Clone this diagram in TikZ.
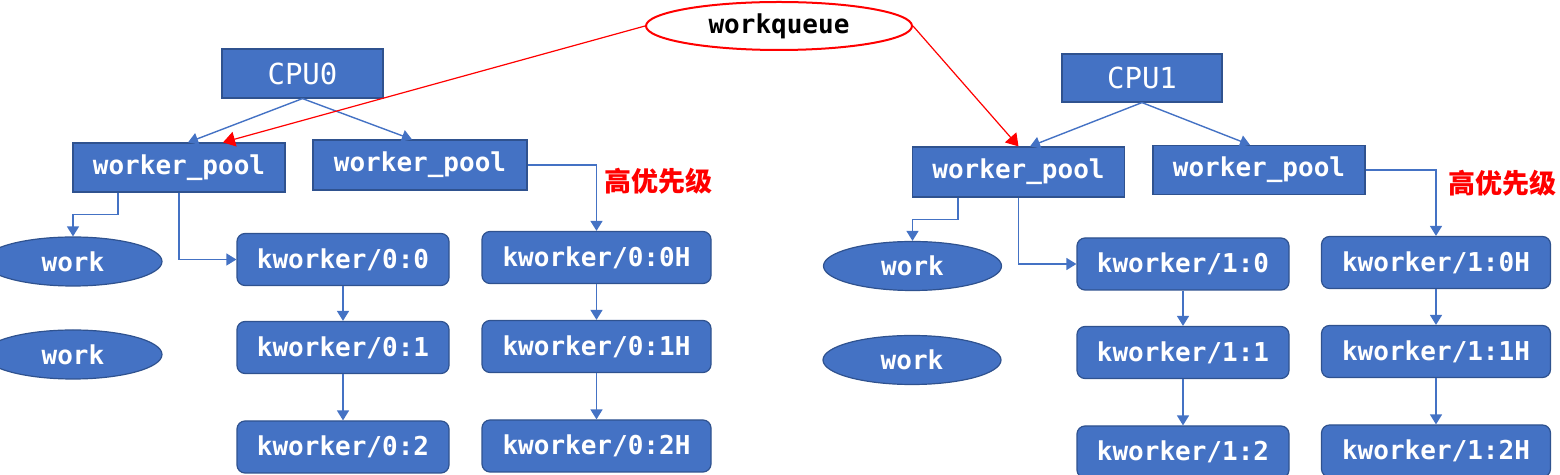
\documentclass[tikz,border=0pt]{standalone}
\usepackage{fontspec}
\newfontfamily\mono{DejaVu Sans Mono}
\newfontfamily\cjk{Noto Sans CJK SC}
\usetikzlibrary{arrows.meta,shapes.geometric,calc}
\definecolor{boxblue}{HTML}{4472C4}
\definecolor{boxedge}{HTML}{2F528F}
\definecolor{linkblue}{HTML}{4472C4}
\definecolor{qred}{HTML}{FF0000}
\begin{document}
\begin{tikzpicture}[x=0.5pt,y=-0.5pt,
 base/.style={fill=boxblue,draw=boxedge,line width=0.6pt,text=white,inner sep=0pt,font=\mono\bfseries\fontsize{13}{15}\selectfont},
 cpubox/.style={base,minimum width=80.5pt,minimum height=24.5pt,font=\mono\fontsize{14.5}{17}\selectfont},
 poolbox/.style={base,minimum width=106pt,minimum height=24.5pt},
 kbox/.style={base,rounded corners=4pt,minimum width=106pt,minimum height=26pt},
 khbox/.style={kbox,minimum width=114.5pt},
 workell/.style={base,ellipse,minimum width=89pt,minimum height=24.5pt},
 conn/.style={draw=linkblue,line width=0.7pt,-{Triangle[width=6pt,length=5pt]}},
 qconn/.style={draw=qred,line width=0.6pt,-{Triangle[width=7.5pt,length=6pt]}},
 prio/.style={text=qred,font=\cjk\bfseries\fontsize{13.5}{16}\selectfont,inner sep=0pt}
]
\useasboundingbox (0,0) rectangle (1560,475);

% workqueue
\node[ellipse,draw=qred,line width=1pt,fill=white,minimum width=133pt,minimum height=24pt,inner sep=0pt,font=\mono\bfseries\fontsize{13}{15}\selectfont] (wq) at (779,26) {workqueue};

% CPU0 side
\node[cpubox] (cpu0) at (302.5,73.5) {CPU0};
\node[poolbox] (wp0a) at (179,167.5) {worker\_pool};
\node[poolbox,minimum width=107pt,minimum height=25pt] (wp0b) at (420,165) {worker\_pool};
\node[workell] (work0a) at (73,261.5) {work};
\node[workell] (work0b) at (73,354.5) {work};
\node[kbox] (k00) at (343,259.5) {kworker/0:0};
\node[kbox] (k01) at (343,347.5) {kworker/0:1};
\node[kbox] (k02) at (343,447) {kworker/0:2};
\node[khbox] (k00H) at (596.5,257.5) {kworker/0:0H};
\node[khbox] (k01H) at (596.5,346.5) {kworker/0:1H};
\node[khbox] (k02H) at (596.5,446) {kworker/0:2H};
\node[prio] (prio0) at (658,181) {高优先级};

% CPU1 side
\node[cpubox,minimum width=80pt,minimum height=24pt] (cpu1) at (1142,78) {CPU1};
\node[poolbox,minimum height=25pt] (wp1a) at (1018.5,172) {worker\_pool};
\node[poolbox] (wp1b) at (1259,170) {worker\_pool};
\node[workell] (work1a) at (912.5,266) {work};
\node[workell] (work1b) at (912,360) {work};
\node[kbox] (k10) at (1183,264) {kworker/1:0};
\node[kbox] (k11) at (1183,352.5) {kworker/1:1};
\node[kbox] (k12) at (1183,452) {kworker/1:2};
\node[khbox] (k10H) at (1436,262.5) {kworker/1:0H};
\node[khbox] (k11H) at (1436,351.5) {kworker/1:1H};
\node[khbox] (k12H) at (1436,451) {kworker/1:2H};
\node[prio] (prio1) at (1502,183) {高优先级};

% connectors CPU0
\draw[conn] (cpu0.south) -- ([xshift=4.5pt]wp0a.north);
\draw[conn] (cpu0.south) -- ([xshift=-4pt]wp0b.north);
\draw[conn] ([xshift=-30.5pt]wp0a.south) -- ++(0,22) -| (work0a.north);
\draw[conn] (wp0a.south) |- (k00.west);
\draw[conn] (k00.south) -- (k01.north);
\draw[conn] (k01.south) -- (k02.north);
\draw[conn] (wp0b.east) -| (k00H.north);
\draw[conn] (k00H.south) -- (k01H.north);
\draw[conn] (k01H.south) -- (k02H.north);

% connectors CPU1
\draw[conn] (cpu1.south) -- ([xshift=5.75pt]wp1a.north);
\draw[conn] (cpu1.south) -- ([xshift=-4.5pt]wp1b.north);
\draw[conn] ([xshift=-30.25pt]wp1a.south) -- ++(0,22) -| (work1a.north);
\draw[conn] (wp1a.south) |- (k10.west);
\draw[conn] (k10.south) -- (k11.north);
\draw[conn] (k11.south) -- (k12.north);
\draw[conn] (wp1b.east) -| (k10H.north);
\draw[conn] (k10H.south) -- (k11H.north);
\draw[conn] (k11H.south) -- (k12H.north);

% workqueue links
\draw[qconn] (wq.west) -- ([xshift=22pt]wp0a.north);
\draw[qconn] (wq.east) -- (wp1a.north);
\end{tikzpicture}
\end{document}
